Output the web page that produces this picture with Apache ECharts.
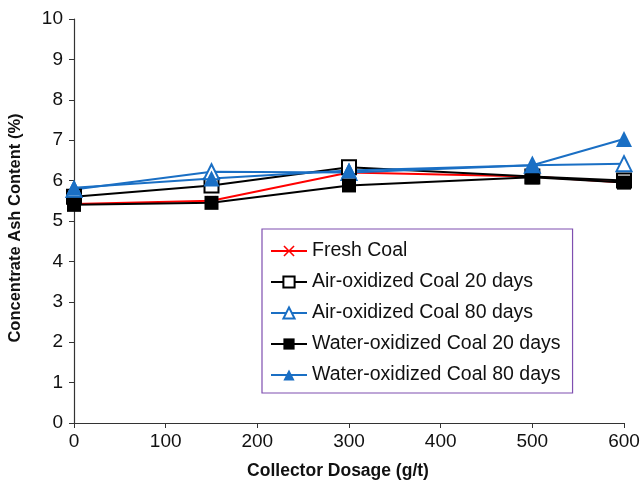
<!DOCTYPE html>
<html><head><meta charset="utf-8">
<script src="https://cdn.jsdelivr.net/npm/echarts@6/dist/echarts.min.js"></script>
<style>html,body{margin:0;padding:0;background:#fff}#c{width:643px;height:481px}</style>
</head><body><div id="c"></div>
<script>
const dosage = [0, 150, 300, 500, 600];
const seriesNames = ['Fresh Coal','Air-oxidized Coal 20 days','Air-oxidized Coal 80 days','Water-oxidized Coal 20 days','Water-oxidized Coal 80 days'];
const freshCoal = [5.42, 5.5, 6.2, 6.1, 5.95];
const air20 = [5.6, 5.88, 6.33, 6.1, 6.0];
const air80 = [5.78, 6.22, 6.2, 6.38, 6.42];
const water20 = [5.4, 5.45, 5.88, 6.08, 5.95];
const water80 = [5.82, 6.05, 6.25, 6.38, 7.03];

const RED = '#ff0000', BLUE = '#1a6fc4', BLACK = '#000000';
const crossPath = 'path://M1,0 L5,4 L9,0 L10,1 L6,5 L10,9 L9,10 L5,6 L1,10 L0,9 L4,5 L0,1 Z';
function pts(arr){ return dosage.map((x,i)=>[x,arr[i]]); }
function mk(name, data, color, symbol, fill, size){
  return {
    name, type:'line', data: pts(data), symbol, symbolSize: size,
    lineStyle:{color, width:2},
    itemStyle:{color: fill, borderColor: color, borderWidth: fill===color?0:2},
    emphasis:{disabled:true}, animation:false
  };
}
const FF = 'Liberation Sans, Arial';
const chart = echarts.init(document.getElementById('c'));
chart.setOption({
  animation:false,
  grid:{left:74, right:19, top:19, bottom:58, containLabel:false, outerBoundsMode:'none'},
  xAxis:{type:'value', min:0, max:600, interval:100,
    name:'Collector Dosage (g/t)', nameLocation:'middle', nameGap:39,
    nameTextStyle:{fontFamily:FF, fontWeight:'bold', fontSize:17.5, color:'#111', padding:[0,22,0,0]},
    axisLine:{lineStyle:{color:'#333', width:1.2}},
    axisTick:{show:true, inside:false, length:5, lineStyle:{color:'#333'}},
    axisLabel:{fontFamily:FF, fontSize:19, color:'#111', margin:9},
    splitLine:{show:false}},
  yAxis:{type:'value', min:0, max:10, interval:1,
    name:'Concentrate Ash Content (%)', nameLocation:'middle', nameGap:50, nameRotate:90,
    nameTextStyle:{fontFamily:FF, fontWeight:'bold', fontSize:16.5, color:'#111', padding:[0,14,0,0]},
    axisLine:{show:true, lineStyle:{color:'#333', width:1.2}},
    axisTick:{show:true, inside:false, length:5, lineStyle:{color:'#333'}},
    axisLabel:{fontFamily:FF, fontSize:19, color:'#111', margin:11},
    splitLine:{show:false}},
  legend:{orient:'vertical', left:262, top:229, data: seriesNames,
    backgroundColor:'#fff', borderColor:'#7f4fb0', borderWidth:1.2,
    padding:[12,12,8,8], itemGap:11, itemWidth:36, itemHeight:14,
    textStyle:{fontFamily:FF, fontSize:19.5, color:'#111', lineHeight:16}},
  series:[
    mk(seriesNames[0], freshCoal, RED, crossPath, RED, 10),
    mk(seriesNames[1], air20, BLACK, 'rect', '#fff', 14),
    mk(seriesNames[2], air80, BLUE, 'triangle', '#fff', 15),
    mk(seriesNames[3], water20, BLACK, 'rect', BLACK, 14),
    mk(seriesNames[4], water80, BLUE, 'triangle', BLUE, 16)
  ]
});
</script></body></html>
